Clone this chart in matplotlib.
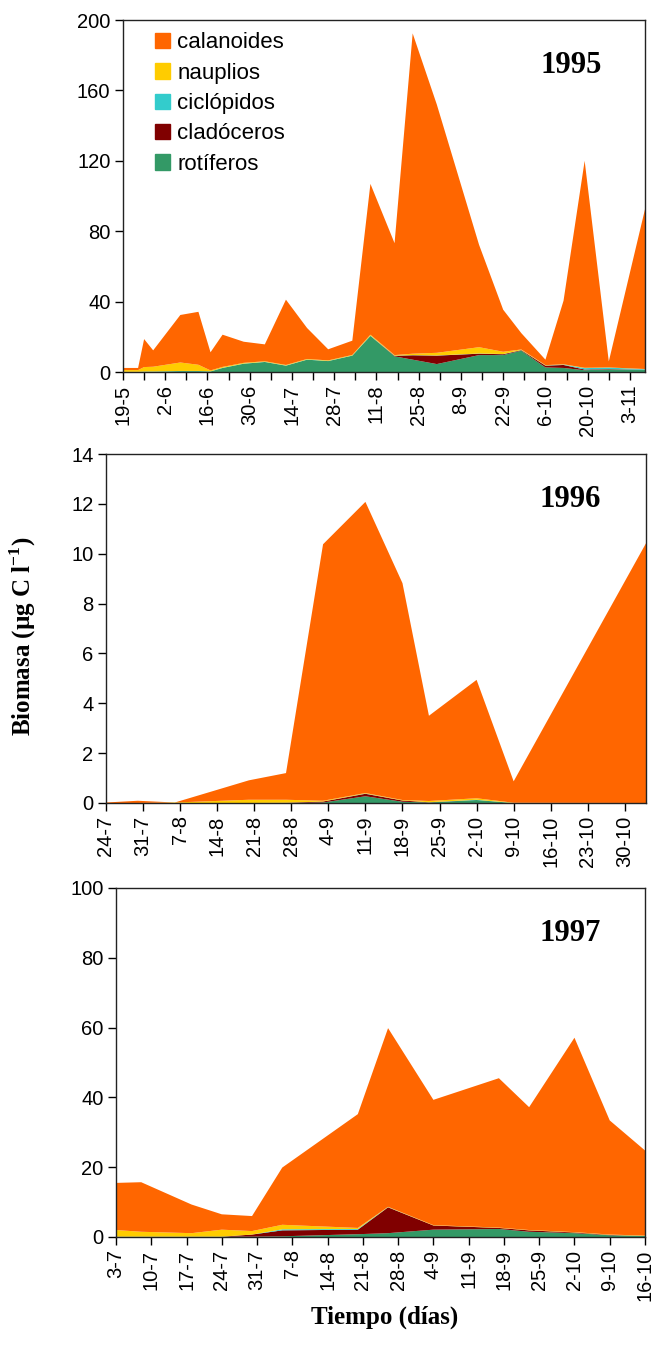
import numpy as np
import matplotlib
matplotlib.use('Agg')
import matplotlib.pyplot as plt
import matplotlib.patches as mpatches
import matplotlib.dates as mdates
from datetime import datetime

plt.rcParams['font.family'] = ['Liberation Sans', 'DejaVu Sans']
plt.rcParams['mathtext.fontset'] = 'custom'
plt.rcParams['mathtext.rm'] = 'Liberation Serif:bold'
plt.rcParams['mathtext.bf'] = 'Liberation Serif:bold'

# stacking order bottom -> top
groups = ['rotíferos', 'cladóceros', 'ciclópidos', 'nauplios', 'calanoides']
colors = ['#339966', '#800000', '#33CCCC', '#FFCC00', '#FF6600']

# ---- 1995 ----
dates_1995 = ['19-5', '24-5', '26-5', '29-5', '7-6', '13-6', '17-6', '21-6', '28-6',
              '5-7', '12-7', '19-7', '26-7', '3-8', '9-8', '17-8', '23-8', '31-8',
              '14-9', '22-9', '28-9', '6-10', '12-10', '19-10', '27-10', '8-11']
rot_1995 = [0, 0, 0.2, 0.2, 0.5, 0.5, 0.3, 2.3, 4.7, 5.7, 3.6, 7.0, 6.2, 9.3, 20.5,
            8.9, 7.0, 4.5, 9.6, 9.6, 12.1, 2.6, 2.3, 1.0, 1.5, 1.2]
clad_1995 = [0, 0, 0, 0, 0, 0, 0, 0, 0, 0, 0, 0, 0, 0, 0,
             0.3, 2.5, 4.8, 0.8, 0.5, 0.3, 1.0, 1.7, 0.4, 0.2, 0.1]
cic_1995 = [0.1, 0.1, 0.1, 0.1, 0.1, 0.1, 0.1, 0.1, 0.1, 0.1, 0.1, 0.1, 0.1, 0.1, 0.2,
            0.1, 0.1, 0.1, 0.1, 0.1, 0.1, 0.1, 0.2, 0.8, 0.8, 0.3]
nau_1995 = [1.0, 1.0, 2.5, 2.7, 4.8, 3.5, 0.5, 0.5, 0.4, 0.3, 0.3, 0.3, 0.3, 0.3, 0.5,
            0.3, 0.8, 1.5, 3.6, 1.3, 0.3, 0.2, 0.2, 0.2, 0.1, 0.1]
cal_1995 = [1.2, 1.2, 15.9, 9.3, 27.0, 30.1, 10.3, 18.3, 12.0, 9.6, 37.1, 17.6, 6.3, 8.1, 85.7,
            63.6, 182.0, 141.1, 58.2, 23.9, 9.3, 3.1, 36.1, 117.6, 3.4, 90.8]
ticks_1995 = ['19-5', '2-6', '16-6', '30-6', '14-7', '28-7', '11-8', '25-8',
              '8-9', '22-9', '6-10', '20-10', '3-11']

# ---- 1996 ----
dates_1996 = ['24-7', '30-7', '6-8', '20-8', '27-8', '3-9', '11-9', '18-9', '23-9',
              '2-10', '9-10', '3-11']
rot_1996 = [0, 0, 0, 0, 0, 0.02, 0.27, 0.05, 0.02, 0.12, 0, 0]
clad_1996 = [0, 0, 0, 0, 0.01, 0.04, 0.10, 0.05, 0.01, 0, 0, 0]
cic_1996 = [0, 0, 0, 0, 0, 0, 0.01, 0, 0, 0.01, 0, 0]
nau_1996 = [0, 0, 0.02, 0.13, 0.12, 0.03, 0.02, 0.02, 0.05, 0.06, 0.01, 0]
cal_1996 = [0.02, 0.09, 0.0, 0.78, 1.07, 10.29, 11.68, 8.70, 3.42, 4.75, 0.86, 10.42]
ticks_1996 = ['24-7', '31-7', '7-8', '14-8', '21-8', '28-8', '4-9', '11-9', '18-9',
              '25-9', '2-10', '9-10', '16-10', '23-10', '30-10']

# ---- 1997 ----
dates_1997 = ['3-7', '8-7', '18-7', '24-7', '30-7', '5-8', '20-8', '26-8', '4-9',
              '17-9', '23-9', '2-10', '9-10', '16-10']
rot_1997 = [0.1, 0.1, 0.1, 0.1, 0.1, 0.2, 0.8, 1.1, 2.1, 2.3, 1.5, 1.1, 0.5, 0.3]
clad_1997 = [0, 0, 0, 0, 0.6, 1.7, 1.3, 7.4, 1.2, 0.3, 0.4, 0.2, 0.1, 0.0]
cic_1997 = [0, 0, 0, 0, 0, 0.3, 0.2, 0.05, 0, 0, 0, 0, 0, 0]
nau_1997 = [1.9, 1.4, 1.0, 2.0, 1.0, 1.3, 0.3, 0.1, 0.1, 0.1, 0.1, 0.1, 0.1, 0.1]
cal_1997 = [13.5, 14.2, 8.2, 4.4, 4.3, 16.4, 32.6, 51.2, 35.9, 42.8, 35.2, 55.7, 32.7, 24.4]
ticks_1997 = ['3-7', '10-7', '17-7', '24-7', '31-7', '7-8', '14-8', '21-8', '28-8',
              '4-9', '11-9', '18-9', '25-9', '2-10', '9-10', '16-10']


def to_num(labels, year):
    return mdates.date2num([datetime.strptime(f'{s}-{year}', '%d-%m-%Y') for s in labels])


def panel(fig, rect, year, dates, layers, ticks, ymax, ystep, minor_weekly=False):
    ax = fig.add_axes(rect)
    x = to_num(dates, year)
    ax.stackplot(x, *layers, colors=colors, linewidth=0)
    ax.set_xlim(x[0], x[-1])
    ax.set_ylim(0, ymax)
    ax.set_yticks(np.arange(0, ymax + ystep / 2, ystep))
    tx = to_num(ticks, year)
    ax.set_xticks(tx)
    ax.set_xticklabels(ticks, rotation=90)
    if minor_weekly:
        ax.set_xticks(np.arange(tx[0], x[-1] + 0.01, 7), minor=True)
        ax.tick_params(axis='x', which='minor', length=6, width=1, direction='out')
    ax.tick_params(axis='both', which='major', labelsize=14.5, length=6, width=1,
                   direction='out', pad=3)
    for s in ax.spines.values():
        s.set_linewidth(1)
        s.set_color('#222222')
    ax.text(0.917, 0.87, str(year), transform=ax.transAxes, ha='right', va='center',
            fontsize=22, fontweight='bold', family='Liberation Serif')
    return ax


W, H = 656, 1346
fig = plt.figure(figsize=(W / 100, H / 100), dpi=100)


def rect(l, r, t, b):
    return [l / W, 1 - b / H, (r - l) / W, (b - t) / H]


ax1 = panel(fig, rect(123, 645, 20, 372), 1995, dates_1995,
            [rot_1995, clad_1995, cic_1995, nau_1995, cal_1995], ticks_1995, 200, 40,
            minor_weekly=True)
ax2 = panel(fig, rect(106, 646, 454, 803), 1996, dates_1996,
            [rot_1996, clad_1996, cic_1996, nau_1996, cal_1996], ticks_1996, 14, 2)
ax3 = panel(fig, rect(116, 645, 888, 1237), 1997, dates_1997,
            [rot_1997, clad_1997, cic_1997, nau_1997, cal_1997], ticks_1997, 100, 20)

handles = [mpatches.Patch(color=c, label=g) for g, c in zip(groups, colors)][::-1]
ax1.legend(handles=handles, loc='upper left', bbox_to_anchor=(0.045, 0.99),
           frameon=False, fontsize=16, handlelength=0.68, handleheight=0.68,
           handletextpad=0.3, labelspacing=0.42, borderaxespad=0)

fig.text(0.034, 0.527, r'Biomasa (µg C l$^{\mathbf{-1}}$)', rotation=90,
         ha='center', va='center', fontsize=18, fontweight='bold',
         family='Liberation Serif')
fig.text(0.587, 0.021, 'Tiempo (días)', ha='center', va='center', fontsize=18,
         fontweight='bold', family='Liberation Serif')

fig.savefig('out.png', dpi=100)
